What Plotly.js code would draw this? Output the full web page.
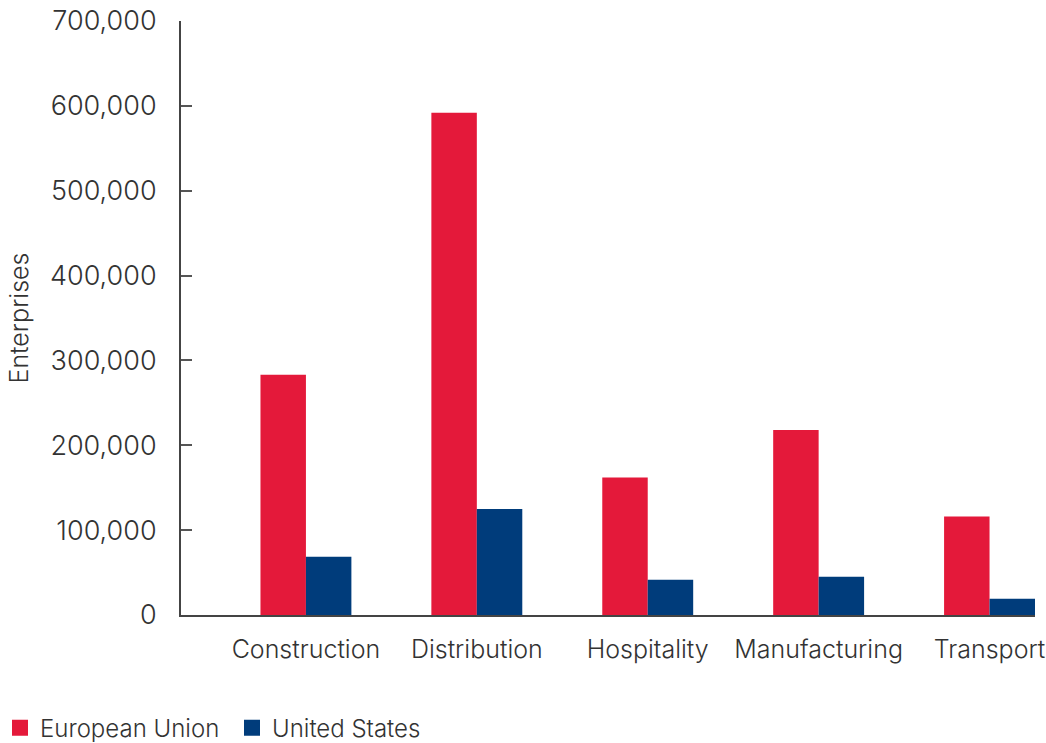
<!DOCTYPE html>
<html>
<head>
<meta charset="utf-8">
<script src="https://cdn.plot.ly/plotly-3.0.1.min.js"></script>
<style>html,body{margin:0;padding:0;background:#fff;}#chart{width:1046px;height:743px;}</style>
</head>
<body>
<div id="chart"></div>
<script>
const categories = ["Construction", "Distribution", "Hospitality", "Manufacturing", "Transport"];
const euValues = [283000, 592000, 162000, 218000, 116000];
const usValues = [68700, 125000, 41600, 45100, 19200];
const seriesNames = ["European Union", "United States"];
const seriesColors = ["#E4193A", "#003C7B"];
const yTicks = [0, 100000, 200000, 300000, 400000, 500000, 600000, 700000];

const font = "Inter, sans-serif";
const txt = "#333333";

const traces = [
  {type: "bar", name: seriesNames[0], x: categories, y: euValues, marker: {color: seriesColors[0]}, showlegend: false},
  {type: "bar", name: seriesNames[1], x: categories, y: usValues, marker: {color: seriesColors[1]}, showlegend: false},
  {type: "scatter", mode: "markers", name: seriesNames[0], x: [null], y: [null], marker: {symbol: "square", size: 18, color: seriesColors[0]}, hoverinfo: "skip"},
  {type: "scatter", mode: "markers", name: seriesNames[1], x: [null], y: [null], marker: {symbol: "square", size: 18, color: seriesColors[1]}, hoverinfo: "skip"}
];

const layout = {
  width: 1046, height: 743,
  margin: {l: 181, r: 11, t: 21, b: 128},
  paper_bgcolor: "#fff", plot_bgcolor: "#fff",
  barmode: "group", bargap: 0.468, bargroupgap: 0,
  font: {family: font, color: txt, weight: 300},
  showlegend: true,
  legend: {orientation: "h", xref: "container", yref: "container", x: 0.0, y: 0.02, xanchor: "left", yanchor: "middle",
           font: {family: font, size: 24, color: txt, weight: 300}, itemclick: false, itemsizing: "trace",
           entrywidth: 187},
  xaxis: {type: "category", range: [-0.731, 4.266], showline: true, linecolor: "#444", linewidth: 2,
          ticks: "", showgrid: false, zeroline: false, ticklabelstandoff: 11,
          tickfont: {family: font, size: 25, color: txt, weight: 300}},
  yaxis: {range: [0, 700000], tickvals: yTicks, tickformat: ",", showline: true, linecolor: "#444", linewidth: 2,
          ticks: "inside", ticklen: 11, tickwidth: 2, tickcolor: "#555", showgrid: false, zeroline: false,
          ticklabelstandoff: 17,
          tickfont: {family: font, size: 27, color: txt, weight: 300},
          title: {text: "Enterprises", standoff: 14, font: {family: font, size: 25, color: txt, weight: 300}}}
};

Plotly.newPlot("chart", traces, layout, {displayModeBar: false, staticPlot: true});
</script>
</body>
</html>
